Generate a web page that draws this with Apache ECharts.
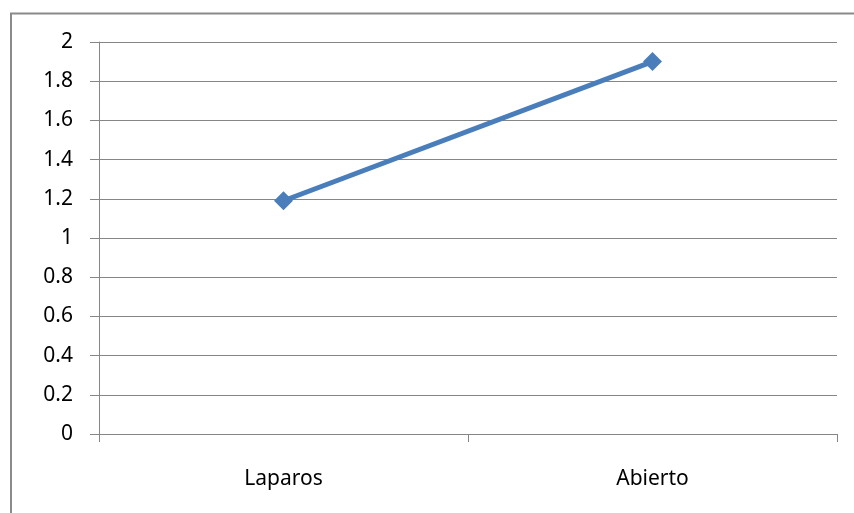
<!DOCTYPE html>
<html>
<head>
<meta charset="utf-8">
<script src="https://cdn.jsdelivr.net/npm/echarts@6/dist/echarts.min.js"></script>
<style>html,body{margin:0;padding:0;background:#fff;}#c{width:854px;height:513px;}</style>
</head>
<body>
<div id="c"></div>
<script>
const categories = ['Laparos', 'Abierto'];
const values = [1.19, 1.9];
const yTicks = { min: 0, max: 2, interval: 0.2 };

const chart = echarts.init(document.getElementById('c'), null, { renderer: 'canvas' });
const font = '"Noto Sans", "Open Sans", sans-serif';
chart.setOption({
  animation: false,
  backgroundColor: '#fff',
  graphic: [{
    type: 'rect',
    shape: { x: 11, y: 13.5, width: 900, height: 600 },
    style: { fill: 'none', stroke: '#8a8a8a', lineWidth: 2 },
    silent: true
  }],
  grid: { left: 99, right: 17, top: 42, bottom: 79 },
  xAxis: {
    type: 'category',
    data: categories,
    boundaryGap: true,
    axisLine: { lineStyle: { color: '#868686', width: 1 } },
    axisTick: { show: true, length: 8, lineStyle: { color: '#868686' } },
    axisLabel: { color: '#000', fontFamily: font, fontSize: 21, margin: 35 },
    splitLine: { show: false }
  },
  yAxis: {
    type: 'value',
    min: yTicks.min, max: yTicks.max, interval: yTicks.interval,
    axisLine: { show: true, lineStyle: { color: '#868686', width: 1 } },
    axisTick: { show: true, length: 9, lineStyle: { color: '#868686' } },
    axisLabel: {
      color: '#000', fontFamily: font, fontSize: 21, margin: 26,
      formatter: v => String(Math.round(v * 10) / 10)
    },
    splitLine: { show: true, lineStyle: { color: '#868686', width: 1 } }
  },
  series: [{
    type: 'line',
    data: values,
    symbol: 'diamond',
    symbolSize: 19,
    lineStyle: { color: '#4a7ebb', width: 5 },
    itemStyle: { color: '#4a7ebb' }
  }]
});
</script>
</body>
</html>
